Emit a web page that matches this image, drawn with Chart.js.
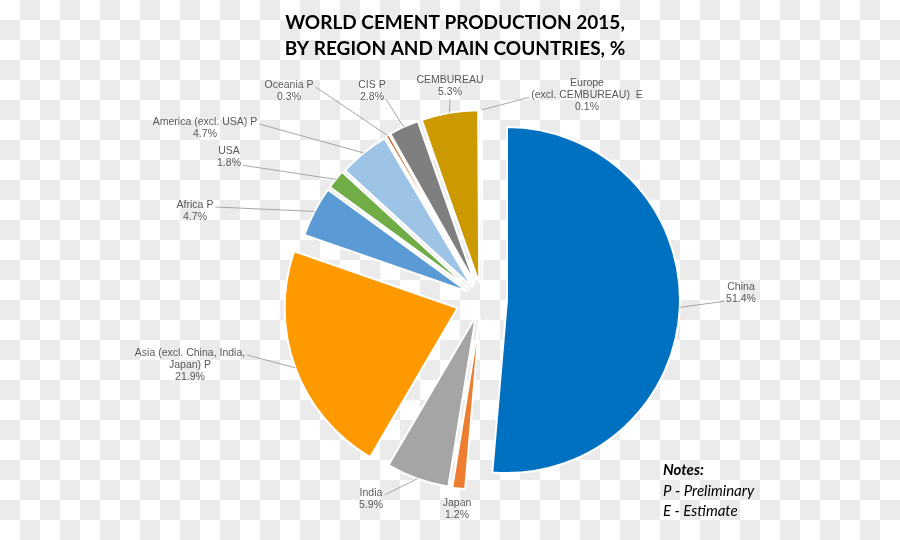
<!DOCTYPE html>
<html>
<head>
<meta charset="utf-8">
<script src="https://cdn.jsdelivr.net/npm/chart.js@4.4.1/dist/chart.umd.min.js"></script>
<style>
  html, body { margin: 0; padding: 0; }
  body {
    width: 900px;
    height: 540px;
    overflow: hidden;
    background-color: #fff;
    background-image: conic-gradient(#ebebeb 25%, #fff 0 50%, #ebebeb 0 75%, #fff 0);
    background-size: 40px 40px;
  }
  #wrap { position: relative; width: 900px; height: 540px; }
</style>
</head>
<body>
<div id="wrap"><canvas id="chart"></canvas></div>
<script>
// data, clockwise from 12 o'clock
const regions = ['China', 'Japan', 'India', 'Asia (excl. China, India, Japan) P', 'Africa P', 'USA',
  'America (excl. USA) P', 'Oceania P', 'CIS P', 'CEMBUREAU', 'Europe (excl. CEMBUREAU) E'];
const shares = [51.4, 1.2, 5.9, 21.9, 4.7, 1.8, 4.7, 0.3, 2.8, 5.3, 0.1];
const labelLines = [
  ['China'], ['Japan'], ['India'], ['Asia (excl. China, India,', 'Japan) P'], ['Africa P'], ['USA'],
  ['America (excl. USA) P'], ['Oceania P'], ['CIS P'], ['CEMBUREAU'], ['Europe', '(excl. CEMBUREAU)  E']
];
const titleLines = ['WORLD CEMENT PRODUCTION 2015,', 'BY REGION AND MAIN COUNTRIES, %'];
const notes = ['Notes:', 'P - Preliminary', 'E - Estimate'];

// styling
const sliceColors = ['#0070c0', '#ed7d31', '#a5a5a5', '#ff9900', '#5b9bd5', '#70ad47',
  '#9dc3e6', '#c55a11', '#7f7f7f', '#cc9900', '#4bc4f0'];
const explode = [25, 18, 18, 26, 16, 16, 15, 16, 16, 16, 16];
// label placement: first line centre x/y, and where the leader leaves the label
const labelLayout = [
  { x: 741, y: 287, attach: 'l2' },
  { x: 457, y: 503, attach: null },
  { x: 371, y: 493, attach: 'r1' },
  { x: 190, y: 353, attach: 'r1' },
  { x: 195, y: 205, attach: 'r1' },
  { x: 229, y: 151, attach: 'r2' },
  { x: 205, y: 122, attach: 'r1' },
  { x: 289, y: 85, attach: 'r1' },
  { x: 372, y: 85, attach: 'r2' },
  { x: 450, y: 80, attach: 'b' },
  { x: 587, y: 83, attach: 'l2' }
];
const LINE_H = 12.3;
const LABEL_FONT = '10.5px "Liberation Sans", Arial, sans-serif';

const explodePlugin = {
  id: 'explode',
  afterDatasetsUpdate(chart) {
    chart.getDatasetMeta(0).data.forEach((arc, i) => {
      const mid = (arc.startAngle + arc.endAngle) / 2;
      arc.x += Math.cos(mid) * explode[i];
      arc.y += Math.sin(mid) * explode[i];
    });
  }
};

const textPlugin = {
  id: 'texts',
  afterDraw(chart) {
    const ctx = chart.ctx;
    ctx.save();

    // title
    ctx.fillStyle = '#000';
    ctx.font = 'bold 19px Lato, sans-serif';
    ctx.textAlign = 'center';
    ctx.textBaseline = 'middle';
    ctx.fillText(titleLines[0], 455, 23);
    ctx.fillText(titleLines[1], 455, 49);

    // data labels + leader lines
    ctx.font = LABEL_FONT;
    chart.getDatasetMeta(0).data.forEach((arc, i) => {
      const lay = labelLayout[i];
      const lines = labelLines[i].concat([shares[i].toFixed(1) + '%']);
      ctx.fillStyle = '#595959';
      lines.forEach((t, k) => ctx.fillText(t, lay.x, lay.y + k * LINE_H));
      if (!lay.attach) return;

      const mid = (arc.startAngle + arc.endAngle) / 2;
      const ax = arc.x + Math.cos(mid) * arc.outerRadius;
      const ay = arc.y + Math.sin(mid) * arc.outerRadius;
      let sx, sy;
      const side = lay.attach[0];
      if (side === 'b') {
        sx = lay.x;
        sy = lay.y + (lines.length - 1) * LINE_H + 7;
      } else {
        const k = Number(lay.attach[1]) - 1;
        const w = ctx.measureText(lines[k]).width;
        sy = lay.y + k * LINE_H + 2;
        sx = side === 'r' ? lay.x + w / 2 + 2 : lay.x - w / 2 - 2;
      }
      ctx.strokeStyle = '#a6a6a6';
      ctx.lineWidth = 1;
      ctx.beginPath();
      ctx.moveTo(sx, sy);
      ctx.lineTo(ax, ay);
      ctx.stroke();
    });

    // notes
    ctx.fillStyle = '#000';
    ctx.textAlign = 'left';
    ctx.font = 'italic bold 15px Lato, sans-serif';
    ctx.fillText(notes[0], 663, 470);
    ctx.font = 'italic 15px Lato, sans-serif';
    ctx.fillText(notes[1], 663, 491);
    ctx.fillText(notes[2], 663, 511);
    ctx.restore();
  }
};

new Chart(document.getElementById('chart'), {
  type: 'pie',
  data: {
    labels: regions,
    datasets: [{
      data: shares,
      backgroundColor: sliceColors,
      borderColor: '#ffffff',
      borderWidth: 2
    }]
  },
  options: {
    responsive: true,
    maintainAspectRatio: false,
    animation: false,
    radius: 173,
    layout: { padding: { left: 100, right: 36, top: 100, bottom: 42 } },
    plugins: {
      legend: { display: false },
      tooltip: { enabled: false },
      title: { display: false }
    }
  },
  plugins: [explodePlugin, textPlugin]
});
</script>
</body>
</html>
